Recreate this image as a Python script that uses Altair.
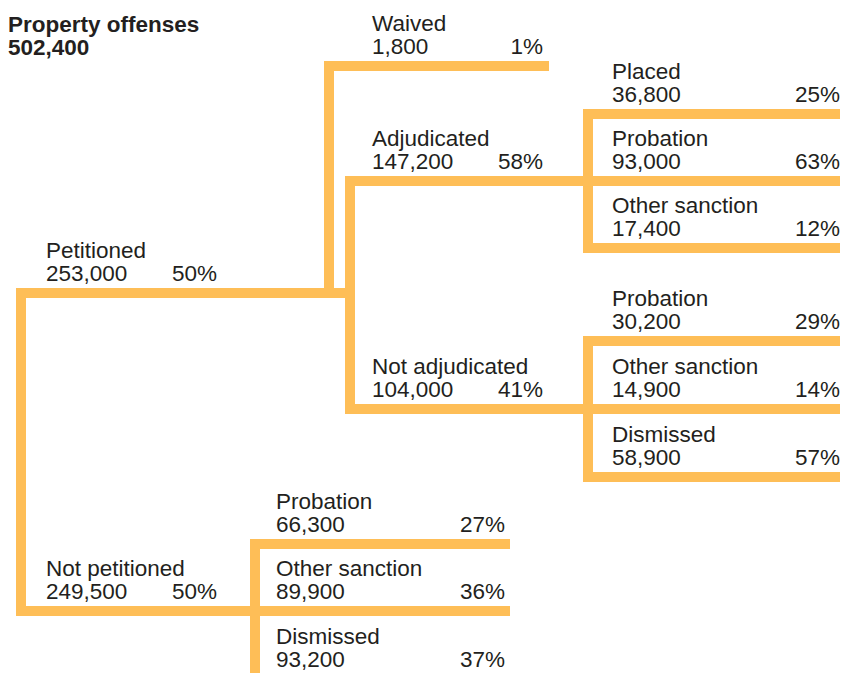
import altair as alt
import pandas as pd

# ---------------- data ----------------
root_name = "Property offenses"
root_count = 502400

names = ["Petitioned", "Not petitioned", "Waived", "Adjudicated", "Not adjudicated",
         "Placed", "Probation", "Other sanction",
         "Probation", "Other sanction", "Dismissed",
         "Probation", "Other sanction", "Dismissed"]
counts = [253000, 249500, 1800, 147200, 104000,
          36800, 93000, 17400,
          30200, 14900, 58900,
          66300, 89900, 93200]
pcts = [50, 50, 1, 58, 41,
        25, 63, 12,
        29, 14, 57,
        27, 36, 37]
parents = [-1, -1, 0, 0, 0, 3, 3, 3, 4, 4, 4, 1, 1, 1]

# ---------------- layout (diagram coordinates, px-like units) ----------------
line_y = [293, 611, 66, 181, 409, 114, 181, 248, 341, 409, 477, 544, 611, 679]
line_x0 = [21, 21, 329, 350, 350, 588, 588, 588, 588, 588, 588, 255, 255, 255]
line_x1 = [350, 255, 544, 588, 588, 848, 848, 848, 848, 848, 848, 505, 505, 505]
label_x = [46, 46, 372, 372, 372, 612, 612, 612, 612, 612, 612, 276, 276, 276]
pct_x = [217, 217, 543, 543, 543, 840, 840, 840, 840, 840, 840, 505, 505, 505]

ORANGE = "#FEBE57"
TEXT = "#231F20"
FONT = "Liberation Sans"
FS = 22.5
SW = 10

nodes = pd.DataFrame({
    "name": names,
    "count": [f"{c:,}" for c in counts],
    "pct": [f"{p}%" for p in pcts],
    "parent": parents,
    "y": line_y,
    "x0": line_x0,
    "x1": line_x1,
    "lx": label_x,
    "px": pct_x,
})
nodes["y_name"] = nodes["y"] - 35
nodes["y_val"] = nodes["y"] - 12

# horizontal segments
hseg = pd.DataFrame({"x": nodes["x0"], "x2": nodes["x1"], "y": nodes["y"], "y2": nodes["y"]})

# vertical connectors: one per group of siblings sharing a start x
vrows = []
for (par, x0), grp in nodes.groupby(["parent", "x0"]):
    yv = list(grp["y"])
    if par >= 0:
        yv.append(nodes.loc[par, "y"])
    vrows.append({"x": x0, "x2": x0, "y": min(yv), "y2": max(yv)})
vseg = pd.DataFrame(vrows)
segs = pd.concat([hseg, vseg], ignore_index=True)

W, H = 832, 665
xs = alt.Scale(domain=[8, 8 + W])
ys = alt.Scale(domain=[8, 8 + H], reverse=True)

lines = alt.Chart(segs).mark_rule(
    color=ORANGE, strokeWidth=SW, strokeCap="square"
).encode(
    x=alt.X("x:Q", scale=xs, axis=None),
    x2="x2:Q",
    y=alt.Y("y:Q", scale=ys, axis=None),
    y2="y2:Q",
)

base_text = dict(font=FONT, fontSize=FS, color=TEXT, baseline="alphabetic")

name_text = alt.Chart(nodes).mark_text(align="left", **base_text).encode(
    x=alt.X("lx:Q", scale=xs, axis=None),
    y=alt.Y("y_name:Q", scale=ys, axis=None),
    text="name:N",
)
val_text = alt.Chart(nodes).mark_text(align="left", **base_text).encode(
    x=alt.X("lx:Q", scale=xs, axis=None),
    y=alt.Y("y_val:Q", scale=ys, axis=None),
    text="count:N",
)
pct_text = alt.Chart(nodes).mark_text(align="right", **base_text).encode(
    x=alt.X("px:Q", scale=xs, axis=None),
    y=alt.Y("y_val:Q", scale=ys, axis=None),
    text="pct:N",
)

root = pd.DataFrame({"t": [root_name, f"{root_count:,}"], "x": [8, 8], "y": [32, 55]})
root_text = alt.Chart(root).mark_text(
    align="left", font=FONT, fontSize=FS, fontWeight="bold", color=TEXT, baseline="alphabetic"
).encode(
    x=alt.X("x:Q", scale=xs, axis=None),
    y=alt.Y("y:Q", scale=ys, axis=None),
    text="t:N",
)

chart = alt.layer(lines, name_text, val_text, pct_text, root_text).properties(
    width=W, height=H, padding=0,
    autosize=alt.AutoSizeParams(type="none"),
).configure_view(stroke=None)

chart.save("out.html", embed_options={"renderer": "svg", "actions": False})
